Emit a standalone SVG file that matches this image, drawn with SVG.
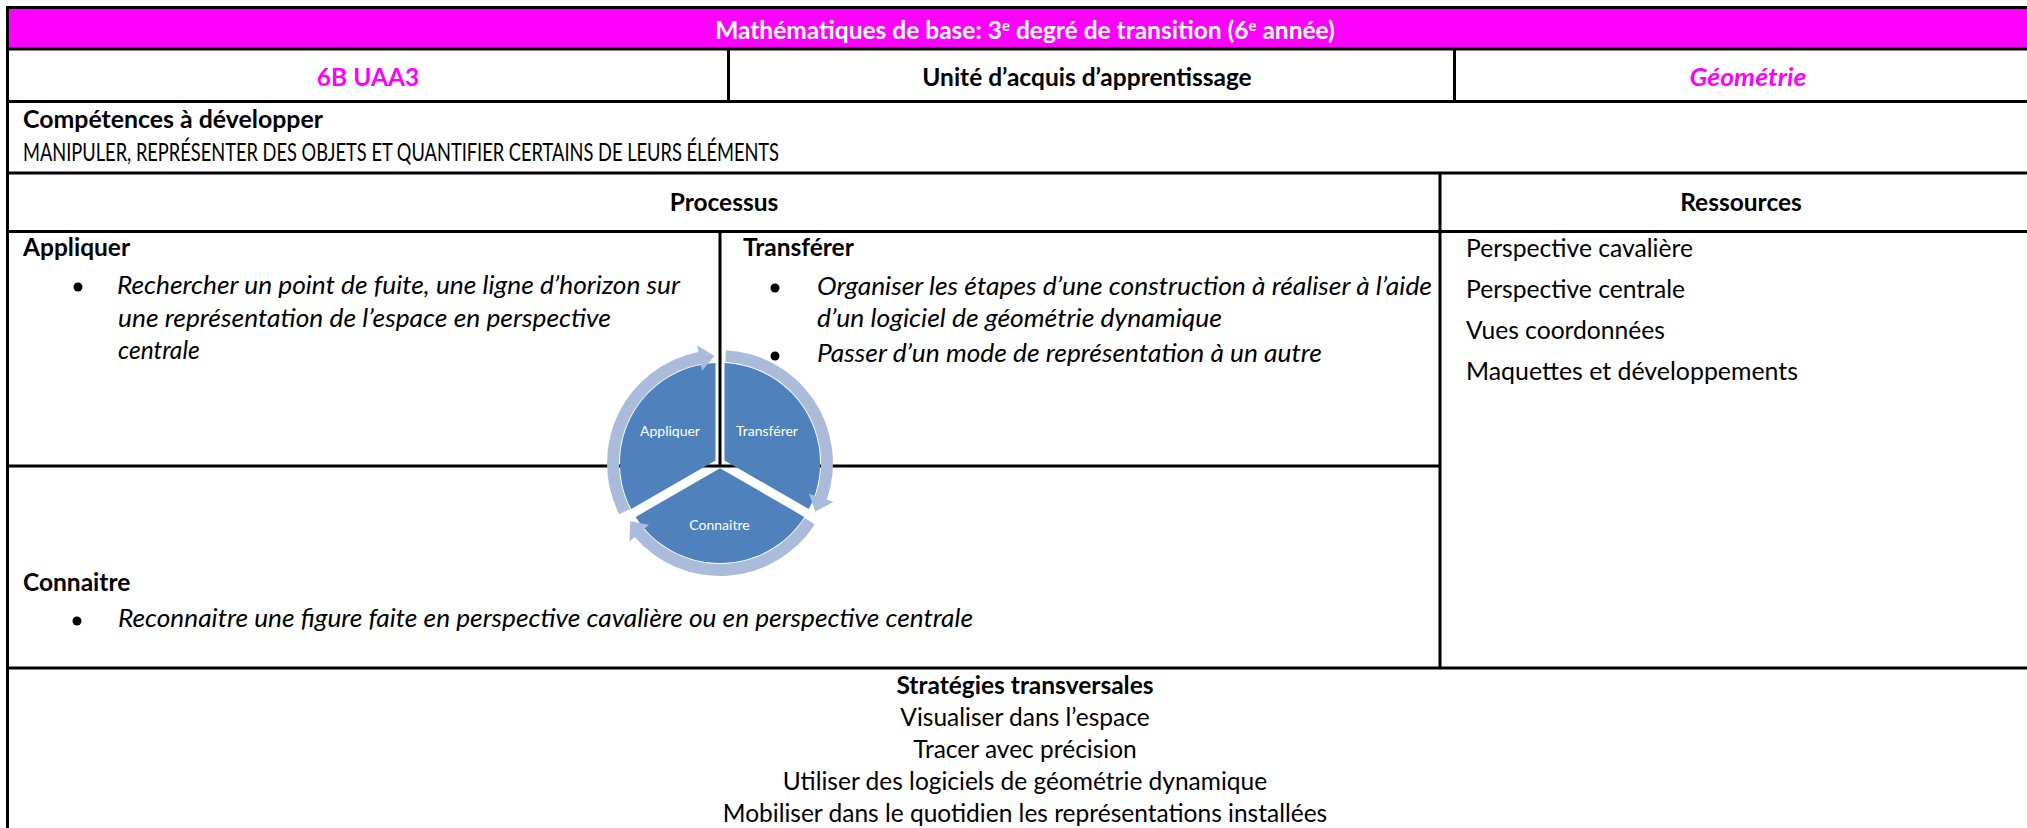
<svg xmlns="http://www.w3.org/2000/svg" width="2027" height="828" viewBox="0 0 2027 828">
<style>
text{font-family:Lato,"Open Sans","Liberation Sans",sans-serif;font-size:24.5px;fill:#000}
.b{font-weight:bold}
.i{font-style:italic}
.m{fill:#FF00FF}
.c{text-anchor:middle}
.w{fill:#fff}
.ln{stroke:#000;stroke-width:3;fill:none}
.seg{fill:#4F81BD}
.arr{fill:#ABBCDB}
.lbl{font-size:14px;fill:#fff;text-anchor:middle}
.dot{fill:#000}
</style>
<rect x="0" y="0" width="2027" height="828" fill="#fff"/>
<rect x="9" y="9" width="2018" height="39" fill="#FF00FF"/>
<g id="grid">
<path class="ln" d="M6 7.5H2027M7.5 6V828M6 49H2027M6 101.5H2027M6 173H2027M6 231.5H2027M6 466H1440M6 668H2027M728.5 49V101.5M1454.5 49V101.5M1440 173V668M720 231.5V466"/>
</g>
<g id="title">
<text class="b w c" x="1025" y="38.5" font-size="23.3">Mathématiques de base: 3<tspan dy="-8" font-size="15">e</tspan><tspan dy="8"> degré de transition (6</tspan><tspan dy="-8" font-size="15">e</tspan><tspan dy="8"> année)</tspan></text>
</g>
<g id="code"><text class="b m c" x="368" y="86">6B UAA3</text></g>
<g id="unite"><text class="b c" x="1087" y="86">Unité d’acquis d’apprentissage</text></g>
<g id="domaine"><text class="b i m c" x="1748" y="86" textLength="117" lengthAdjust="spacingAndGlyphs">Géométrie</text></g>
<g id="competences">
<text class="b" x="23" y="128" textLength="300" lengthAdjust="spacingAndGlyphs">Compétences à développer</text>
<text x="23" y="161" font-size="21" textLength="756" lengthAdjust="spacingAndGlyphs">MANIPULER, REPRÉSENTER DES OBJETS ET QUANTIFIER CERTAINS DE LEURS ÉLÉMENTS</text>
</g>
<g id="processus"><text class="b c" x="724" y="211">Processus</text></g>
<g id="ressources-head"><text class="b c" x="1741" y="211">Ressources</text></g>
<g id="appliquer">
<text class="b" x="23" y="256">Appliquer</text>
<circle class="dot" cx="78" cy="287" r="4.5"/>
<text class="i" x="117" y="294" textLength="563" lengthAdjust="spacingAndGlyphs">Rechercher un point de fuite, une ligne d’horizon sur</text>
<text class="i" x="118" y="327" textLength="493" lengthAdjust="spacingAndGlyphs">une représentation de l’espace en perspective</text>
<text class="i" x="118" y="359">centrale</text>
</g>
<g id="transferer">
<text class="b" x="743" y="256">Transférer</text>
<circle class="dot" cx="775" cy="288" r="4.5"/>
<text class="i" x="817" y="295" textLength="615" lengthAdjust="spacingAndGlyphs">Organiser les étapes d’une construction à réaliser à l’aide</text>
<text class="i" x="817" y="327" textLength="405" lengthAdjust="spacingAndGlyphs">d’un logiciel de géométrie dynamique</text>
<circle class="dot" cx="775" cy="356" r="4.5"/>
<text class="i" x="817" y="362" textLength="505" lengthAdjust="spacingAndGlyphs">Passer d’un mode de représentation à un autre</text>
</g>
<g id="connaitre">
<text class="b" x="23" y="591">Connaitre</text>
<circle class="dot" cx="77" cy="621" r="4.5"/>
<text class="i" x="118" y="627" textLength="855" lengthAdjust="spacingAndGlyphs">Reconnaitre une figure faite en perspective cavalière ou en perspective centrale</text>
</g>
<g id="ressources">
<text x="1466" y="257" textLength="227" lengthAdjust="spacingAndGlyphs">Perspective cavalière</text>
<text x="1466" y="298" textLength="219" lengthAdjust="spacingAndGlyphs">Perspective centrale</text>
<text x="1466" y="339" textLength="199" lengthAdjust="spacingAndGlyphs">Vues coordonnées</text>
<text x="1466" y="380" textLength="332" lengthAdjust="spacingAndGlyphs">Maquettes et développements</text>
</g>
<g id="strategies">
<text class="b c" x="1025" y="694">Stratégies transversales</text>
<text class="c" x="1025" y="726">Visualiser dans l’espace</text>
<text class="c" x="1025" y="758">Tracer avec précision</text>
<text class="c" x="1025" y="790">Utiliser des logiciels de géométrie dynamique</text>
<text class="c" x="1025" y="822">Mobiliser dans le quotidien les représentations installées</text>
</g>
<g transform="translate(0,2)">
<g id="cycle">
<g id="seg-appliquer">
<path class="seg" d="M715.5 458.4L715.5 361.1A100 100 0 0 0 631.2 507.1Z"/>
<text class="lbl" x="670" y="434">Appliquer</text>
</g>
<g id="seg-transferer">
<path class="seg" d="M724.5 458.4L724.5 361.1A100 100 0 0 1 808.8 507.1Z"/>
<text class="lbl" x="767" y="434">Transférer</text>
</g>
<g id="seg-connaitre">
<path class="seg" d="M720 466.2L804.3 514.9A100 100 0 0 1 635.7 514.9Z"/>
<text class="lbl" x="719.5" y="528">Connaitre</text>
</g>
</g>
<g id="connectors">
<path class="arr" d="M619.3 512.3A113 113 0 0 1 698.4 350.1L697.1 343.2L714.4 354.1L702.1 368.7L700.7 361.9A101 101 0 0 0 630.0 506.9Z"/>
<path class="arr" d="M725.9 348.2A113 113 0 0 1 826.8 497.8L833.5 500.1L815.3 509.6L808.9 491.6L815.5 493.9A101 101 0 0 0 725.3 360.1Z"/>
<path class="arr" d="M814.8 522.5A113 113 0 0 1 634.7 535.1L629.4 539.7L630.3 519.3L649.1 522.7L643.8 527.3A101 101 0 0 0 804.7 516.0Z"/>
</g>
</g>
</svg>
